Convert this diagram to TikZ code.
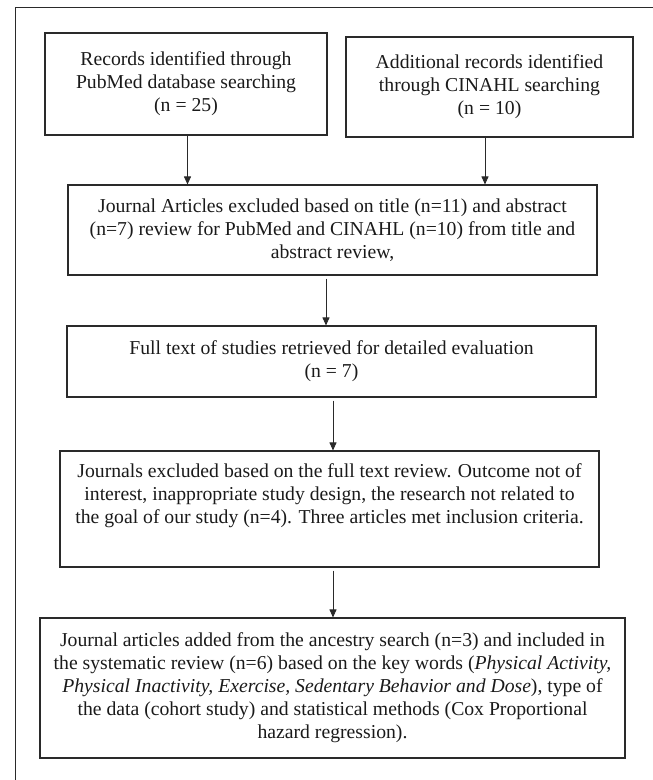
\documentclass[tikz,border=0pt]{standalone}
\usepackage{fontspec}
\setmainfont{Liberation Serif}
\usetikzlibrary{arrows.meta}
\definecolor{ink}{HTML}{1A1A1A}
\definecolor{edge}{HTML}{2A2A2A}
\begin{document}
\begin{tikzpicture}[x=1pt,y=-1pt,
  box/.style={draw=edge,line width=1.1pt,rectangle,align=center,text=ink,
    inner xsep=2pt,inner ysep=2pt,
    font=\fontsize{19.7}{23}\selectfont},
  arr/.style={draw=edge,line width=0.9pt,-{Triangle[width=7pt,length=8pt]}}]
\useasboundingbox (0,0) rectangle (653,780);
% outer frame (top and left edges)
\draw[edge,line width=1pt] (15,780) -- (15,7) -- (653,7);

\node[box,minimum width=282pt,minimum height=102pt] (b1) at (186,84)
  {Records identified through\\PubMed database searching\\(n = 25)};
\node[box,minimum width=287pt,minimum height=100pt] (b2) at (489.5,87)
  {Additional records identified\\through CINAHL searching\\(n = 10)};
\node[box,minimum width=529pt,minimum height=90pt] (b3) at (332.5,230)
  {Journal Articles excluded based on title (n=11) and abstract\\(n=7) review for PubMed and CINAHL (n=10) from title and\\abstract review,};
\node[box,minimum width=529pt,minimum height=71pt] (b4) at (331.5,361.5)
  {Full text of studies retrieved for detailed evaluation\\(n = 7)};
\node[box,minimum width=539pt,minimum height=116pt] (b5) at (329.5,509)
  {Journals excluded based on the full text review. Outcome not of\\interest, inappropriate study design, the research not related to\\the goal of our study (n=4). Three articles met inclusion criteria.\\\strut};
\node[box,minimum width=585pt,minimum height=140pt] (b6) at (332.5,688)
  {Journal articles added from the ancestry search (n=3) and included in\\the systematic review (n=6) based on the key words (\textit{Physical Activity,}\\\textit{Physical Inactivity, Exercise, Sedentary Behavior and Dose}), type of\\the data (cohort study) and statistical methods (Cox Proportional\\hazard regression).};

\draw[arr] ([xshift=1.5pt]b1.south) -- ([xshift=1.5pt]b1.south |- b3.north);
\draw[arr] ([xshift=-4.5pt]b2.south) -- ([xshift=-4.5pt]b2.south |- b3.north);
\draw[arr,shorten <=3pt] ([xshift=-6.5pt]b3.south) -- ([xshift=-6.5pt]b3.south |- b4.north);
\draw[arr,shorten <=3pt] ([xshift=1.5pt]b4.south) -- ([xshift=1.5pt]b4.south |- b5.north);
\draw[arr,shorten <=3pt] ([xshift=3.5pt]b5.south) -- ([xshift=3.5pt]b5.south |- b6.north);
\end{tikzpicture}
\end{document}
